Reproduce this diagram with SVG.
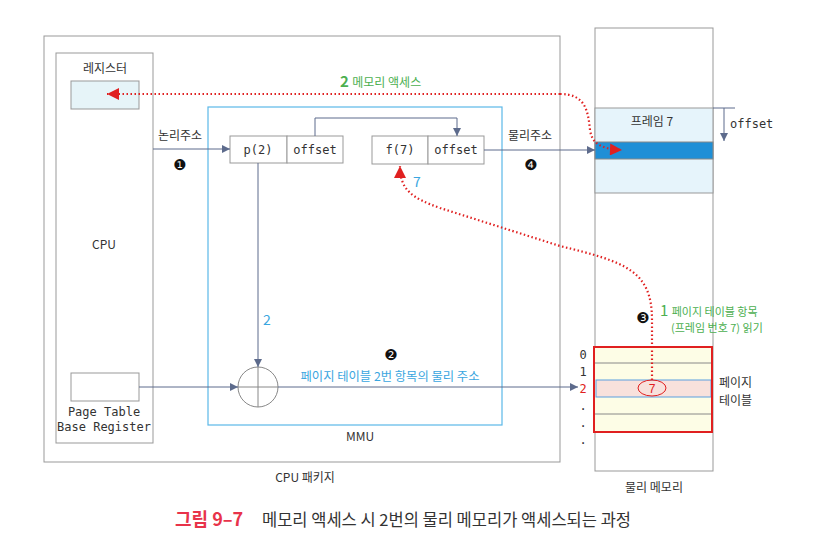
<svg xmlns="http://www.w3.org/2000/svg" width="815" height="549" viewBox="0 0 815 549">
<defs>
<style>
.box{fill:#fff;stroke:#999;stroke-width:1}
.kr{font-family:"Noto Sans CJK KR","Noto Sans",sans-serif}
.mono{font-family:"DejaVu Sans Mono","Liberation Mono",monospace}
.lbl{font-size:12px;fill:#333}
.conn{fill:none;stroke:#5d6b8c;stroke-width:1}
.red{fill:none;stroke:#e02020;stroke-width:2.2;stroke-dasharray:1.5 2.5}
.num{font-family:"DejaVu Sans",sans-serif;font-size:15px;fill:#111}
.green{fill:#4caf50}
.blue{fill:#3aa6e0}
</style>
<marker id="ah" viewBox="0 0 10 10" refX="10" refY="5" markerWidth="8" markerHeight="8" markerUnits="userSpaceOnUse" orient="auto"><path d="M0,0 L10,5 L0,10 z" fill="#5d6b8c"/></marker>
<marker id="rh" viewBox="0 0 10 10" refX="10" refY="5" markerWidth="14" markerHeight="12" markerUnits="userSpaceOnUse" orient="auto"><path d="M0,0 L10,5 L0,10 z" fill="#e02020"/></marker>
</defs>
<rect width="815" height="549" fill="#fff"/>

<g id="cpu-package">
<rect class="box" x="44" y="36" width="516" height="426"/>
<text class="kr lbl" x="305" y="482" text-anchor="middle" font-size="13">CPU 패키지</text>
</g>

<g id="cpu">
<rect class="box" x="56" y="53" width="97" height="390"/>
<text class="kr lbl" x="104" y="249" text-anchor="middle">CPU</text>
</g>

<g id="register">
<text class="kr lbl" x="105" y="73" text-anchor="middle" font-size="14">레지스터</text>
<rect x="71" y="81" width="68" height="28" fill="#e6f4f8" stroke="#999"/>
</g>

<g id="ptbr">
<rect class="box" x="71" y="373" width="68" height="28"/>
<text class="mono lbl" x="104" y="416" text-anchor="middle" font-size="10.3">Page Table</text>
<text class="mono lbl" x="104" y="431" text-anchor="middle" font-size="10.3">Base Register</text>
</g>

<g id="mmu">
<rect x="208" y="107" width="294" height="318" fill="none" stroke="#5bb8e8" stroke-width="1.2"/>
<text class="kr lbl" x="360" y="441" text-anchor="middle" font-size="11">MMU</text>
</g>

<g id="logical-address">
<rect class="box" x="230" y="136" width="57" height="27"/>
<rect class="box" x="287" y="136" width="56" height="27"/>
<text class="mono lbl" x="258" y="154" text-anchor="middle" font-size="13">p(2)</text>
<text class="mono lbl" x="315" y="154" text-anchor="middle" font-size="13">offset</text>
</g>

<g id="physical-address">
<rect class="box" x="372" y="136" width="56" height="28"/>
<rect class="box" x="428" y="136" width="56" height="28"/>
<text class="mono lbl" x="400" y="154" text-anchor="middle" font-size="13">f(7)</text>
<text class="mono lbl" x="456" y="154" text-anchor="middle" font-size="13">offset</text>
</g>

<g id="adder">
<circle cx="258" cy="387" r="20" fill="#fff" stroke="#888"/>
<line x1="238" y1="387" x2="278" y2="387" stroke="#888"/>
<line x1="258" y1="367" x2="258" y2="407" stroke="#888"/>
</g>

<g id="physical-memory">
<rect class="box" x="595" y="28" width="118" height="443"/>
<rect x="595" y="108" width="118" height="85" fill="#e6f4fb" stroke="#999"/>
<rect x="595" y="142" width="118" height="17" fill="#1f8fd6" stroke="#888"/>
<text class="kr lbl" x="652" y="126" text-anchor="middle" font-size="14">프레임 7</text>
<text class="mono lbl" x="730" y="128" font-size="13">offset</text>
<text class="kr lbl" x="654" y="492" text-anchor="middle" font-size="13">물리 메모리</text>
</g>

<g id="page-table">
<rect x="594" y="347" width="118" height="85" fill="#fdfde6" stroke="none"/>
<line x1="594" y1="363" x2="712" y2="363" stroke="#888"/>
<line x1="594" y1="414" x2="712" y2="414" stroke="#888"/>
<rect x="596" y="380" width="115" height="17" fill="#f8e1dc" stroke="#5b9fe0"/>
<rect x="594" y="347" width="118" height="85" fill="none" stroke="#e02020" stroke-width="2"/>
<ellipse cx="652" cy="388" rx="14" ry="8" fill="none" stroke="#e02020"/>
<text x="652" y="393" text-anchor="middle" font-family="Liberation Sans,sans-serif" font-size="12" fill="#e02020">7</text>
<text class="mono lbl" x="583" y="359" text-anchor="middle">0</text>
<text class="mono lbl" x="583" y="376" text-anchor="middle">1</text>
<text class="mono" x="583" y="393" text-anchor="middle" font-size="12" fill="#e02020">2</text>
<text class="mono lbl" x="583" y="410" text-anchor="middle">.</text>
<text class="mono lbl" x="583" y="427" text-anchor="middle">.</text>
<text class="mono lbl" x="583" y="444" text-anchor="middle">.</text>
<text class="kr lbl" x="719" y="387" font-size="14">페이지</text>
<text class="kr lbl" x="719" y="405" font-size="14">테이블</text>
</g>

<g id="connectors">
<path class="conn" d="M153,149 H230" marker-end="url(#ah)"/>
<path class="conn" d="M315,136 V118 H457 V136" marker-end="url(#ah)"/>
<path class="conn" d="M484,150 H595" marker-end="url(#ah)"/>
<path class="conn" d="M258,163 V367" marker-end="url(#ah)"/>
<path class="conn" d="M139,387 H238" marker-end="url(#ah)"/>
<path class="conn" d="M278,387 H578" marker-end="url(#ah)"/>
<path class="conn" d="M713,108 H735"/>
<path class="conn" d="M724,108 V141" marker-end="url(#ah)"/>
<path class="red" d="M652,380 V320 C652,270 625,262 560,246 L440,208 C412,198 400,190 400,166" marker-end="url(#rh)"/>
<path class="red" d="M560,94 H107" marker-end="url(#rh)"/>
<path class="red" d="M560,94 C585,94 588,110 590,130 C592,143 600,149 622,150" marker-end="url(#rh)"/>
</g>

<g id="labels">
<text class="kr lbl" x="180" y="140" text-anchor="middle" font-size="11">논리주소</text>
<text class="num" x="180" y="170" text-anchor="middle">❶</text>
<text class="kr lbl" x="530" y="140" text-anchor="middle" font-size="11">물리주소</text>
<text class="num" x="531" y="170" text-anchor="middle">❹</text>
<text class="num" x="391" y="360" text-anchor="middle">❷</text>
<text class="num" x="643" y="323" text-anchor="middle">❸</text>
<text class="kr" x="340" y="87" font-size="15" font-weight="bold" fill="#4caf50">2 <tspan font-size="12" font-weight="normal">메모리 액세스</tspan></text>
<text class="kr" x="660" y="316" font-size="15" fill="#4caf50">1 <tspan font-size="11">페이지 테이블 항목</tspan></text>
<text class="kr" x="671" y="332" font-size="11" fill="#4caf50">(프레임 번호 7) 읽기</text>
<text class="kr blue" x="267" y="325" text-anchor="middle" font-size="14">2</text>
<text class="kr blue" x="417" y="187" text-anchor="middle" font-size="14">7</text>
<text class="kr blue" x="390" y="381" text-anchor="middle" font-size="12.3">페이지 테이블 2번 항목의 물리 주소</text>
<text class="kr" x="175" y="526" font-size="18" font-weight="bold" fill="#e8334a">그림 9–7</text>
<text class="kr" x="262" y="526" font-size="16.5" fill="#333">메모리 액세스 시 2번의 물리 메모리가 액세스되는 과정</text>
</g>
</svg>
